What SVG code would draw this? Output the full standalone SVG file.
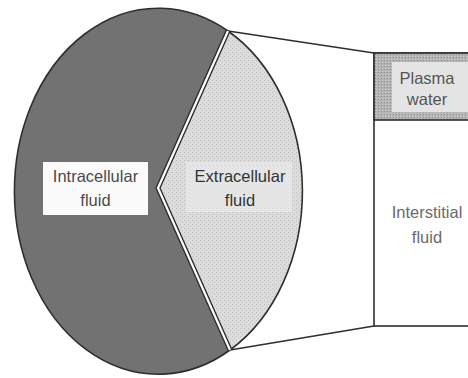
<svg xmlns="http://www.w3.org/2000/svg" width="468" height="378" viewBox="0 0 468 378">
<style>
.lbl{font-family:"Liberation Sans",Arial,sans-serif;font-size:16.5px;text-anchor:middle}
.edge{fill:none;stroke:#2e2e2e;stroke-width:1.6}
</style>
<defs>
<pattern id="stip" width="4" height="4" patternUnits="userSpaceOnUse">
<rect width="4" height="4" fill="#dcdcdc"/>
<rect x="0" y="0" width="1" height="1" fill="#bdbdbd"/>
<rect x="2" y="2" width="1" height="1" fill="#c4c4c4"/>
</pattern>
<pattern id="stip2" width="3" height="3" patternUnits="userSpaceOnUse">
<rect width="3" height="3" fill="#b4b4b4"/>
<rect x="0" y="0" width="1" height="1" fill="#8e8e8e"/>
<rect x="1" y="2" width="1" height="1" fill="#d0d0d0"/>
</pattern>
</defs>
<rect width="468" height="378" fill="#ffffff"/>
<g id="connectors">
<line class="edge" x1="228" y1="31" x2="374" y2="53"/>
<line class="edge" x1="230" y1="350" x2="374" y2="326"/>
</g>
<g id="intracellular">
<path d="M228,31 A144,183 0 1 0 230,350 L158,188 Z" fill="#727272" stroke="#2e2e2e" stroke-width="1.6"/>
<rect x="43" y="162" width="105" height="53" fill="#fbfbfb"/>
<text class="lbl" x="95.5" y="182" fill="#4a4a4a">Intracellular</text>
<text class="lbl" x="95.5" y="206" fill="#4a4a4a">fluid</text>
</g>
<g id="extracellular">
<path d="M228,31 A144,183 0 0 1 230,350 L158,188 Z" fill="url(#stip)" stroke="#2e2e2e" stroke-width="1.6"/>
<rect x="186" y="162" width="106" height="50" fill="#ececec" opacity="0.6"/>
<text class="lbl" x="240" y="182" fill="#333">Extracellular</text>
<text class="lbl" x="240" y="206" fill="#333">fluid</text>
</g>
<g id="divider">
<path d="M228,31 L158,188 L230,350" fill="none" stroke="#2e2e2e" stroke-width="5" stroke-linejoin="miter"/>
<path d="M228,31 L158,188 L230,350" fill="none" stroke="#ffffff" stroke-width="2.2" stroke-linejoin="miter"/>
</g>
<g id="interstitial">
<rect x="374" y="53" width="110" height="273" fill="#ffffff" stroke="#2e2e2e" stroke-width="1.6"/>
<text class="lbl" x="427" y="218" fill="#6a6a6a">Interstitial</text>
<text class="lbl" x="427" y="243" fill="#6a6a6a">fluid</text>
</g>
<g id="plasma">
<rect x="374" y="53" width="110" height="67" fill="url(#stip2)" stroke="#2e2e2e" stroke-width="1.6"/>
<rect x="392" y="62" width="76" height="50" fill="#e4e4e4"/>
<text class="lbl" x="427" y="84" fill="#555">Plasma</text>
<text class="lbl" x="427" y="105" fill="#555">water</text>
</g>
</svg>
